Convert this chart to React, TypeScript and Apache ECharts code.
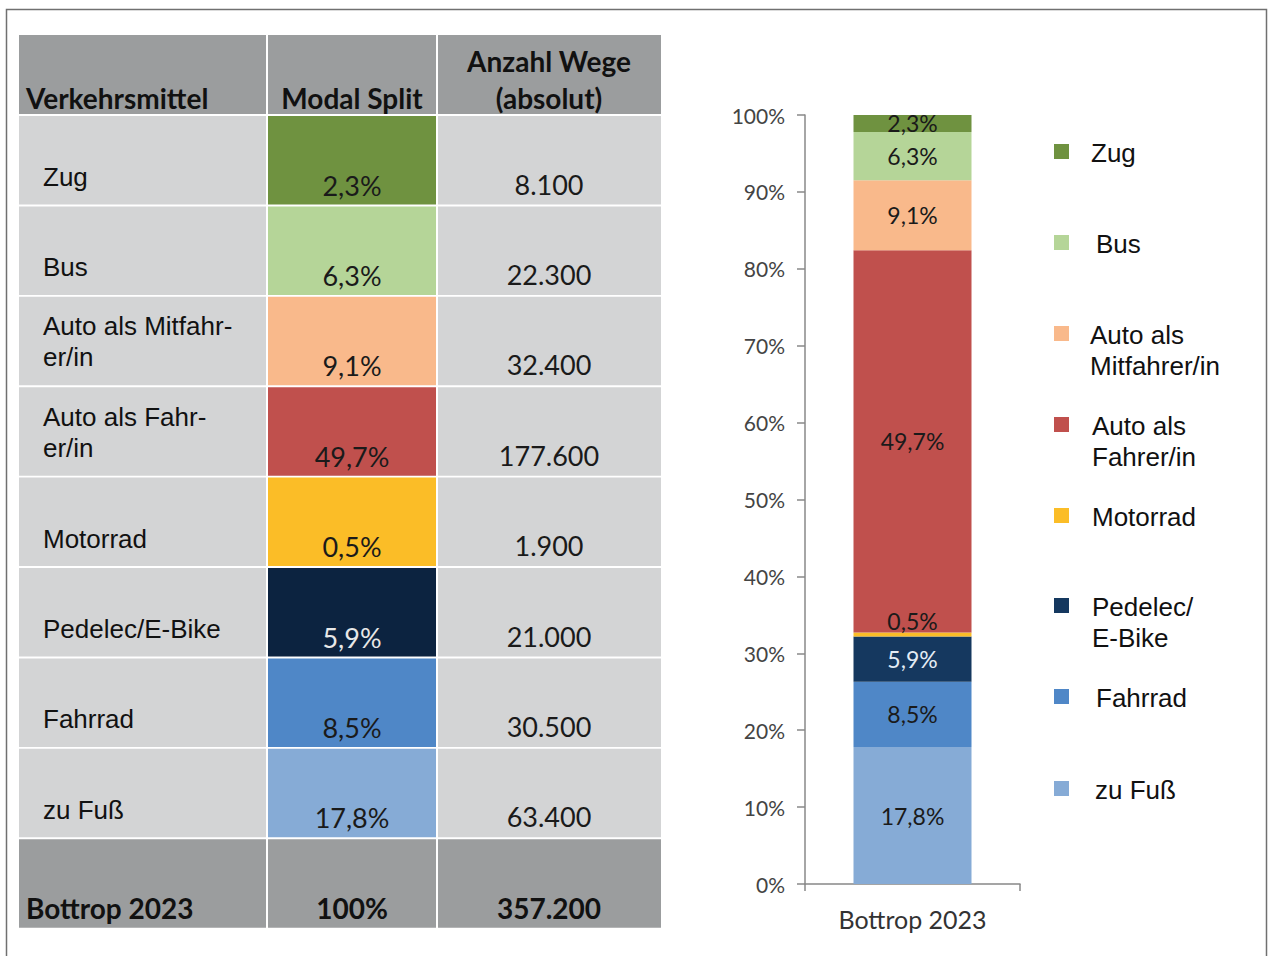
import React, { useEffect, useRef } from "react";
import * as echarts from "echarts";

// ---- data ----
const categories = ["Zug", "Bus", "Auto als Mitfahrer/in", "Auto als Fahrer/in", "Motorrad", "Pedelec/E-Bike", "Fahrrad", "zu Fuß"];
const tableLabels = ["Zug", "Bus", "Auto als Mitfahr-\ner/in", "Auto als Fahr-\ner/in", "Motorrad", "Pedelec/E-Bike", "Fahrrad", "zu Fuß"];
const legendLabels = ["Zug", "Bus", "Auto als\nMitfahrer/in", "Auto als\nFahrer/in", "Motorrad", "Pedelec/\nE-Bike", "Fahrrad", "zu Fuß"];
const shares = [2.3, 6.3, 9.1, 49.7, 0.5, 5.9, 8.5, 17.8];
const trips = [8100, 22300, 32400, 177600, 1900, 21000, 30500, 63400];
const totalLabel = "Bottrop 2023";
const totalShare = 100;
const totalTrips = 357200;
const headers = ["Verkehrsmittel", "Modal Split", "Anzahl Wege\n(absolut)"];
const barCategories = ["Bottrop 2023"];
const yTicks = { min: 0, max: 100, interval: 10 };

// ---- styles ----
const barColors = ["#6f9240", "#b5d598", "#f9b98b", "#c0504d", "#fbbd27", "#15385f", "#4f87c7", "#86abd6"];
const cellColors = ["#6f9240", "#b5d598", "#f9b98b", "#c0504d", "#fbbd27", "#0c2340", "#4f87c7", "#86abd6"];
const darkText = "#1a1a1a";

const fmtPct = (v: number) => v.toFixed(1).replace(".", ",") + "%";
const fmtInt = (v: number) => String(v).replace(/\B(?=(\d{3})+(?!\d))/g, ".");

export default function App() {
  const ref = useRef<HTMLDivElement>(null);
  useEffect(() => {
    if (!ref.current) return;
    const chart = echarts.init(ref.current, null, { renderer: "svg" });

    const colX = [19, 268, 438];
    const colW = [247, 168, 223];
    const headerTop = 35;
    const headerH = 79;
    const rowTop = (i: number) => 116 + i * 90.4;
    const rowH = 88.5;
    const headFill = "#9b9d9e";
    const bodyFill = "#d3d4d5";
    const headFont = "bold 28px Lato";
    const valFont = "27px Lato";
    const labFont = "26px 'Liberation Sans'";

    const graphic: any[] = [];
    graphic.push({
      type: "rect",
      shape: { x: 6.5, y: 9.5, width: 1260, height: 970 },
      style: { fill: "none", stroke: "#707070", lineWidth: 1.5 },
      silent: true,
    });
    for (let c = 0; c < 3; c++) {
      graphic.push({ type: "rect", shape: { x: colX[c], y: headerTop, width: colW[c], height: headerH }, style: { fill: headFill } });
    }
    graphic.push({ type: "text", x: 26, y: 98, style: { text: headers[0], font: headFont, fill: "#111", verticalAlign: "middle", align: "left" } });
    graphic.push({ type: "text", x: 352, y: 98, style: { text: headers[1], font: headFont, fill: "#111", verticalAlign: "middle", align: "center" } });
    graphic.push({ type: "text", x: 549, y: 79.5, style: { text: headers[2], font: headFont, fill: "#111", verticalAlign: "middle", align: "center", lineHeight: 37 } });

    categories.forEach((_, i) => {
      const t = rowTop(i);
      graphic.push({ type: "rect", shape: { x: colX[0], y: t, width: colW[0], height: rowH }, style: { fill: bodyFill } });
      graphic.push({ type: "rect", shape: { x: colX[1], y: t, width: colW[1], height: rowH }, style: { fill: cellColors[i] } });
      graphic.push({ type: "rect", shape: { x: colX[2], y: t, width: colW[2], height: rowH }, style: { fill: bodyFill } });
      const two = tableLabels[i].includes("\n");
      graphic.push({
        type: "text",
        x: 43,
        y: two ? t + 45 : t + 61,
        style: { text: tableLabels[i], font: labFont, fill: "#111", verticalAlign: "middle", align: "left", lineHeight: 31 },
      });
      graphic.push({
        type: "text",
        x: 352,
        y: t + 69,
        style: { text: fmtPct(shares[i]), font: valFont, fill: i === 5 ? "#e8e8e8" : darkText, verticalAlign: "middle", align: "center" },
      });
      graphic.push({
        type: "text",
        x: 549,
        y: t + 68,
        style: { text: fmtInt(trips[i]), font: valFont, fill: darkText, verticalAlign: "middle", align: "center" },
      });
    });
    const tt = rowTop(categories.length);
    for (let c = 0; c < 3; c++) {
      graphic.push({ type: "rect", shape: { x: colX[c], y: tt, width: colW[c], height: rowH }, style: { fill: headFill } });
    }
    graphic.push({ type: "text", x: 26, y: tt + 69, style: { text: totalLabel, font: headFont, fill: "#111", verticalAlign: "middle", align: "left" } });
    graphic.push({ type: "text", x: 352, y: tt + 69, style: { text: totalShare + "%", font: headFont, fill: "#111", verticalAlign: "middle", align: "center" } });
    graphic.push({ type: "text", x: 549, y: tt + 69, style: { text: fmtInt(totalTrips), font: headFont, fill: "#111", verticalAlign: "middle", align: "center" } });

    const legendY = [152, 243, 334, 425, 516, 606, 697, 789];
    const legendTextX = [1091, 1096, 1090, 1092, 1092, 1092, 1096, 1095];
    legendLabels.forEach((lab, i) => {
      graphic.push({ type: "rect", shape: { x: 1054, y: legendY[i] - 8, width: 15, height: 15 }, style: { fill: barColors[i] } });
      graphic.push({
        type: "text",
        x: legendTextX[i],
        y: legendY[i] - 15,
        style: { text: lab, font: labFont, fill: "#111", verticalAlign: "top", align: "left", lineHeight: 31 },
      });
    });

    const series: any[] = [];
    for (let i = categories.length - 1; i >= 0; i--) {
      series.push({
        type: "bar",
        name: categories[i],
        stack: "total",
        data: [shares[i]],
        barWidth: 118,
        itemStyle: { color: barColors[i] },
        label: {
          show: true,
          position: i === 4 ? "top" : "inside",
          distance: 0,
          formatter: (p: any) => fmtPct(p.value),
          fontFamily: "Lato",
          fontSize: 23,
          color: i === 5 ? "#e4ecf5" : darkText,
        },
      });
    }

    chart.setOption({
      animation: false,
      grid: { left: 805, top: 115, width: 215, height: 769, containLabel: false },
      xAxis: {
        type: "category",
        data: barCategories,
        axisLine: { lineStyle: { color: "#888", width: 1.5 } },
        axisTick: { show: true, length: 7, lineStyle: { color: "#888", width: 1.5 } },
        axisLabel: { fontFamily: "Lato", fontSize: 25, color: "#333", margin: 22 },
      },
      yAxis: {
        type: "value",
        min: yTicks.min,
        max: yTicks.max,
        interval: yTicks.interval,
        axisLine: { show: true, lineStyle: { color: "#888", width: 1.5 } },
        axisTick: { show: true, length: 8, lineStyle: { color: "#888", width: 1.5 } },
        splitLine: { show: false },
        axisLabel: { formatter: "{value}%", fontFamily: "Lato", fontSize: 21, color: "#444", margin: 20 },
      },
      series,
      graphic,
    });
    return () => chart.dispose();
  }, []);
  return (
    <div
      ref={ref}
      style={{ position: "absolute", left: 0, top: 0, width: 1272, height: 956, background: "#fff" }}
    />
  );
}
